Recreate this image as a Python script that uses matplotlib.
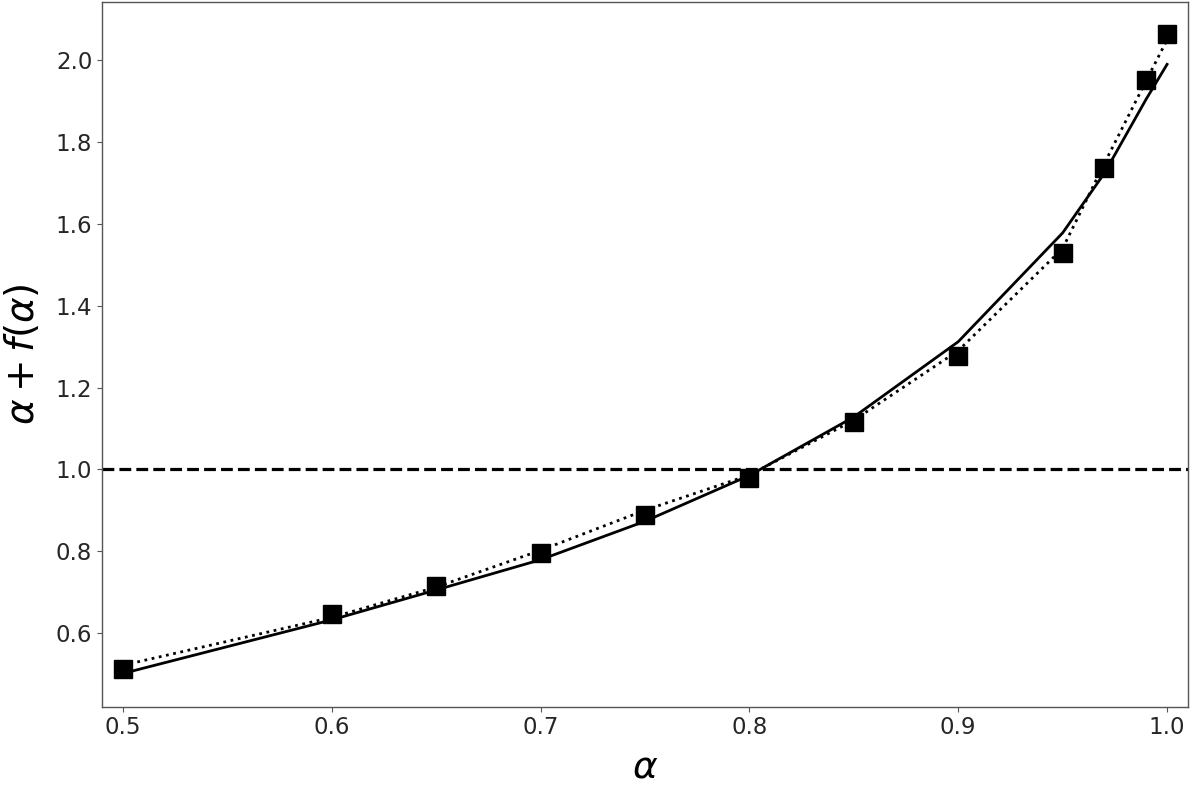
import numpy as np
import matplotlib
matplotlib.use("Agg")
import matplotlib.pyplot as plt

# alpha values used
alpha = [0.5, 0.6, 0.65, 0.7, 0.75, 0.8, 0.85, 0.9, 0.95, 0.97, 0.99, 1.0]
# square markers (measured)
measured = [0.511, 0.647, 0.715, 0.795, 0.889, 0.979, 1.116, 1.277, 1.528, 1.737, 1.952, 2.065]
# solid curve
solid = [0.501, 0.632, 0.705, 0.779, 0.873, 0.985, 1.128, 1.312, 1.578, 1.724, 1.905, 1.99]
# dotted curve
dotted = [0.521, 0.638, 0.712, 0.802, 0.900, 0.986, 1.120, 1.290, 1.540, 1.748, 1.950, 2.05]

xticks = [0.5, 0.6, 0.7, 0.8, 0.9, 1.0]
yticks = [0.6, 0.8, 1.0, 1.2, 1.4, 1.6, 1.8, 2.0]


def plot_curve():
    fig = plt.figure(figsize=(11.95, 7.85), dpi=100)
    ax = fig.add_axes([0.0854, 0.0997, 0.9087, 0.8978])

    ax.plot(alpha, solid, color="black", linestyle="-", linewidth=2)
    ax.plot(alpha, dotted, color="black", linestyle=":", linewidth=2)
    ax.plot(alpha, measured, color="black", linestyle="none", marker="s", markersize=13.5)
    ax.axhline(1.0, color="black", linestyle="--", linewidth=2.3)

    ax.set_xlim(0.49, 1.01)
    ax.set_ylim(0.4196, 2.1425)
    ax.set_xticks(xticks)
    ax.set_yticks(yticks)
    ax.tick_params(labelsize=16.5, labelcolor="#262626", color="#555555")
    for s in ax.spines.values():
        s.set_color("#555555")
        s.set_linewidth(1.0)

    ax.set_xlabel(r"$\alpha$", fontsize=27, labelpad=7)
    ax.set_ylabel(r"$\alpha + f(\alpha)$", fontsize=28, labelpad=10)

    plt.savefig("out.png", dpi=100)


def main():
    plot_curve()


if __name__ == "__main__":
    main()
